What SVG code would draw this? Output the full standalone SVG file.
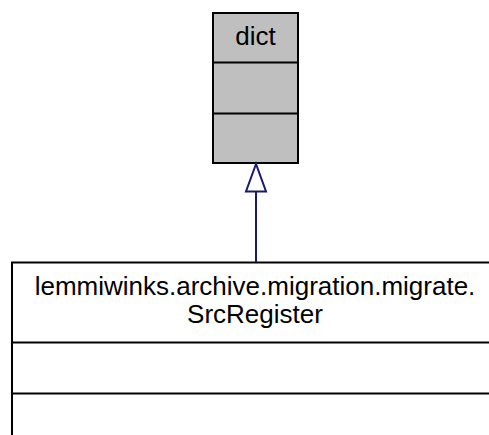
<svg xmlns="http://www.w3.org/2000/svg" width="489" height="435" viewBox="0 0 489 435">
<style>
.box{stroke:#000;stroke-width:2}
.txt{font-family:"Liberation Sans",Arial,sans-serif;font-size:26px;fill:#000;text-anchor:middle}
.edge{stroke:#191970;stroke-width:2;fill:none}
</style>
<rect width="489" height="435" fill="#fff"/>
<g id="node-dict">
<rect class="box" x="213" y="13" width="85" height="150" fill="#bfbfbf"/>
<line class="box" x1="213" y1="62.5" x2="298" y2="62.5"/>
<line class="box" x1="213" y1="113.5" x2="298" y2="113.5"/>
<text class="txt" x="255.5" y="45">dict</text>
</g>
<g id="node-srcregister">
<rect class="box" x="12" y="262.5" width="490" height="200" fill="#fff"/>
<line class="box" x1="12" y1="342.5" x2="502" y2="342.5"/>
<line class="box" x1="12" y1="393.5" x2="502" y2="393.5"/>
<text class="txt" x="255" y="295">lemmiwinks.archive.migration.migrate.</text>
<text class="txt" x="255" y="323">SrcRegister</text>
</g>
<g id="connectors">
<line class="edge" x1="256" y1="192" x2="256" y2="262"/>
<polygon class="edge" points="256,164 246,191.5 266,191.5" fill="#fff"/>
</g>
</svg>
